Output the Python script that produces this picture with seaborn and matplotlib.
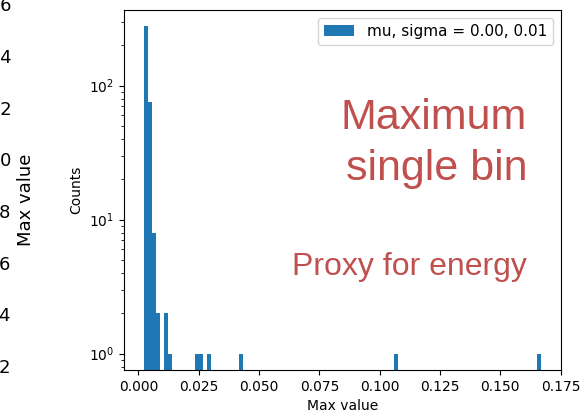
import numpy as np
import pandas as pd
import matplotlib
matplotlib.use("Agg")
import matplotlib.pyplot as plt
from matplotlib.patches import Patch
import seaborn as sns

# Histogram of the per-event maximum single-bin value (100 equal-width bins)
range_lo = 0.0023
range_hi = 0.1668
n_bins = 100
# occupied bins (index into the 100 bins) and their counts
occupied_bins = [0, 1, 2, 3, 5, 6, 13, 14, 16, 24, 63, 99]
bin_counts = [277, 75, 8, 2, 2, 1, 1, 1, 1, 1, 1, 1]
legend_label = "mu, sigma = 0.00, 0.01"

# right-hand axis of the neighbouring panel
side_ticks = [0.2, 0.4, 0.6, 0.8, 1.0, 1.2, 1.4, 1.6]

BAR_BLUE = "#1f77b4"
NOTE_RED = "#c0504d"

edges = np.linspace(range_lo, range_hi, n_bins + 1)
idx = np.asarray(occupied_bins)
centers = (edges[idx] + edges[idx + 1]) / 2
df = pd.DataFrame({"max_value": centers, "count": bin_counts})

fig = plt.figure(figsize=(5.82, 4.17), dpi=100)

# histogram panel
ax = fig.add_axes([0.2131, 0.1127, 0.7503, 0.8633])
sns.histplot(data=df, x="max_value", weights="count", bins=n_bins,
             binrange=(range_lo, range_hi), ax=ax,
             color=BAR_BLUE, alpha=1, linewidth=0, edgecolor="none")
ax.set_yscale("log")
ax.set_ylim(0.755, 367)
ax.set_xlabel("Max value")
ax.set_ylabel("Counts")
ax.legend(handles=[Patch(facecolor=BAR_BLUE)], labels=[legend_label],
          loc="upper right", fontsize=11)

# neighbouring panel, mostly outside the canvas
side = fig.add_axes([-0.5, 0.045, 0.4536, 0.95])
side.set_ylim(0.0753, 1.608)
side.yaxis.tick_right()
side.yaxis.set_label_position("right")
side.set_yticks(side_ticks)
side.set_yticklabels([f"{t:.1f}" for t in side_ticks])
side.tick_params(axis="y", labelsize=13)
side.set_xticks([])
side.set_ylabel("Max value", fontsize=13)

# annotations
fig.text(0.9055, 0.5683, "Maximum\nsingle bin", ha="right", va="baseline",
         multialignment="right", fontsize=31, color=NOTE_RED,
         family="Liberation Sans", linespacing=1.36)
fig.text(0.9055, 0.3405, "Proxy for energy", ha="right", va="baseline",
         fontsize=23, color=NOTE_RED, family="Liberation Sans")

fig.savefig("out.png", dpi=100)
